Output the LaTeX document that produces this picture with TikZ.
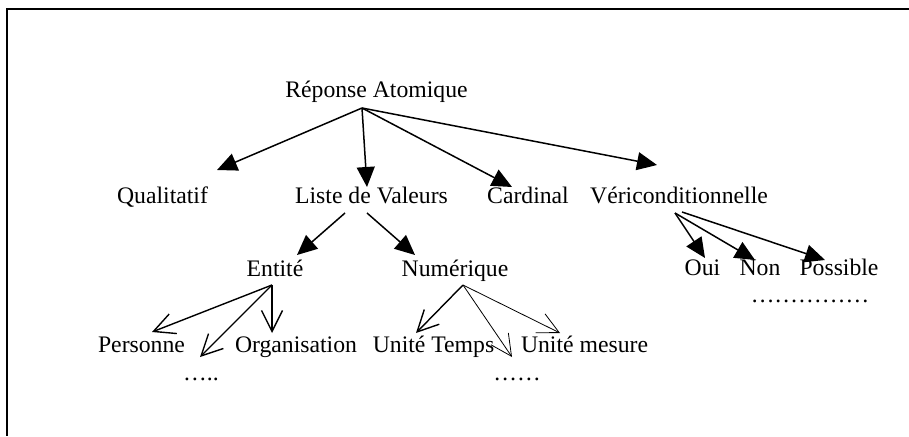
\documentclass[tikz,border=0pt]{standalone}
\usepackage{fontspec}
\setmainfont{Liberation Serif}
\usetikzlibrary{arrows.meta}
\begin{document}
\begin{tikzpicture}[x=1pt,y=-1pt,
  lbl/.style={anchor=base,inner sep=0pt,font=\fontsize{23.7}{28}\selectfont},
  dots/.style={anchor=base,inner sep=0pt,font=\fontsize{23.7}{28}\selectfont},
  big/.style={line width=1.5pt,-{Triangle[length=20pt,width=18pt]}},
  openar/.style={line width=1.4pt,-{Straight Barb[length=21pt,width=21pt]}},
  thinar/.style={line width=0.8pt,-{Straight Barb[length=21pt,width=21pt]}}]
\useasboundingbox (0,0) rectangle (909,436);
\draw[line width=2pt] (909,9) -- (7,9) -- (7,436);
% labels
\node[lbl] (root) at (376.5,97) {Réponse Atomique};
\node[lbl] (qual) at (162.5,203) {Qualitatif};
\node[lbl] (liste) at (371.5,203) {Liste de Valeurs};
\node[lbl] (card) at (528,203) {Cardinal};
\node[lbl] (veri) at (679,203) {Vériconditionnelle};
\node[lbl] (ent) at (275,276) {Entité};
\node[lbl] (num) at (455,276) {Numérique};
\node[lbl] (pers) at (141.5,352) {Personne};
\node[lbl] (org) at (296,352) {Organisation};
\node[lbl] (ut) at (433.5,352) {Unité Temps};
\node[lbl] (um) at (584.5,352) {Unité mesure};
\node[lbl] (oui) at (702.5,275) {Oui};
\node[lbl] (non) at (760,275) {Non};
\node[lbl] (poss) at (839,275) {Possible};
\node[dots] (d1) at (201,380) {…..};
\node[dots] (d2) at (517,380) {……};
\node[dots] (d3) at (810,302) {……………};
% connector points
\coordinate (r0) at (362,108);
\coordinate (tq) at (217,170);
\coordinate (tl) at (367,187);
\coordinate (tc) at (512,187);
\coordinate (tv) at (657,165);
\coordinate (l1) at (345,213);
\coordinate (l2) at (367,213);
\coordinate (te) at (297,255);
\coordinate (tn) at (415,255);
\coordinate (e0) at (272,285);
\coordinate (tp) at (152,332);
\coordinate (td1) at (200,357);
\coordinate (to) at (272,333);
\coordinate (n0) at (463,285);
\coordinate (tut) at (416,333);
\coordinate (td2) at (512,357);
\coordinate (tum) at (560,333);
\coordinate (v1) at (675,213);
\coordinate (v2) at (682,212);
\coordinate (toui) at (705,258);
\coordinate (tnon) at (755,260);
\coordinate (tposs) at (825,260);
% arrows
\draw[big] (r0) -- (tq);
\draw[big] (r0) -- (tl);
\draw[big] (r0) -- (tc);
\draw[big] (r0) -- (tv);
\draw[big] (l1) -- (te);
\draw[big] (l2) -- (tn);
\draw[openar] (e0) -- (tp);
\draw[openar] (e0) -- (td1);
\draw[openar] (e0) -- (to);
\draw[openar] (n0) -- (tut);
\draw[thinar] (n0) -- (td2);
\draw[thinar] (n0) -- (tum);
\draw[big] (v1) -- (toui);
\draw[big] (v1) -- (tnon);
\draw[big] (v2) -- (tposs);
\end{tikzpicture}
\end{document}
